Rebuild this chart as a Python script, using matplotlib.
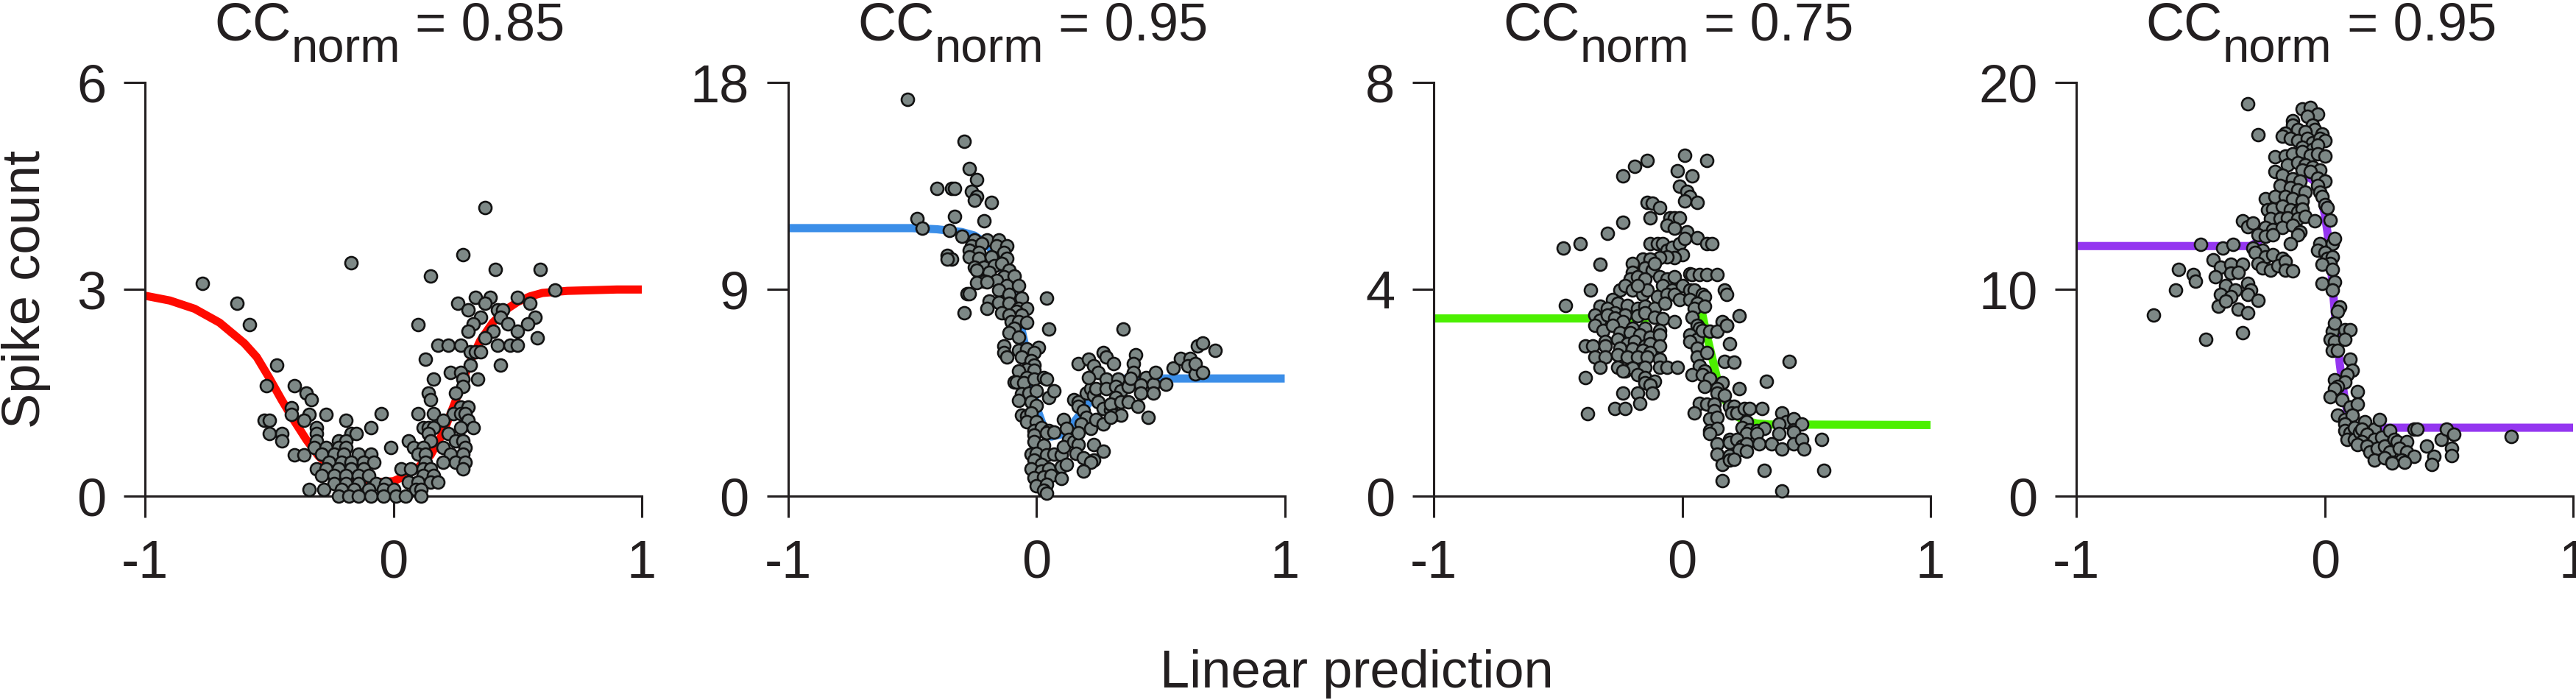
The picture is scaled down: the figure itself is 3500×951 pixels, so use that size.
import matplotlib
matplotlib.use("Agg")
import matplotlib.pyplot as plt

plt.rcParams['font.family'] = ['Liberation Sans', 'DejaVu Sans']
plt.rcParams['axes.unicode_minus'] = False

TEXT = '#231f20'

# panel settings
titles = ['0.85', '0.95', '0.75', '0.95']
y_ticks = [[0, 3, 6], [0, 9, 18], [0, 4, 8], [0, 10, 20]]
line_colors = ['#ff0a00', '#3b8ee8', '#4cf000', '#9436f0']

# fitted nonlinearities
fit1_x = [-1, -0.9, -0.8, -0.7, -0.6, -0.55, -0.5, -0.45, -0.4, -0.35, -0.3, -0.25, -0.2, -0.15,
          -0.1, -0.05, 0, 0.05, 0.1, 0.15, 0.2, 0.25, 0.3, 0.35, 0.4, 0.45, 0.5, 0.55, 0.6, 0.7,
          0.8, 0.9, 1.0]
fit1_y = [2.91, 2.84, 2.72, 2.52, 2.22, 2.02, 1.72, 1.40, 1.10, 0.82, 0.58, 0.42, 0.31, 0.25,
          0.22, 0.21, 0.22, 0.30, 0.42, 0.60, 0.92, 1.38, 1.88, 2.26, 2.52, 2.70, 2.82, 2.90,
          2.95, 2.98, 2.99, 3.0, 3.0]

fit2_x = [-1, -0.5, -0.4, -0.3, -0.25, -0.2, -0.15, -0.1, -0.07, -0.04, -0.02, 0, 0.03, 0.06,
          0.1, 0.15, 0.2, 0.25, 0.3, 0.35, 0.4, 1.0]
fit2_y = [11.67, 11.67, 11.62, 11.5, 11.35, 11.0, 10.3, 9.0, 7.8, 6.3, 5.0, 3.9, 3.0, 2.6,
          2.7, 3.2, 3.9, 4.6, 5.0, 5.12, 5.13, 5.13]

fit3_x = [-1, -0.15, -0.13, -0.11, -0.09, -0.07, -0.05, -0.02, 0.0, 0.02, 0.04, 0.06, 0.08,
          0.1, 0.12, 0.14, 0.16, 0.18, 0.2, 0.22, 0.25, 0.3, 0.35, 1.0]
fit3_y = [3.44, 3.44, 3.47, 3.65, 3.95, 4.18, 4.22, 4.15, 4.08, 4.02, 3.92, 3.78, 3.55,
          3.1, 2.7, 2.3, 2.0, 1.8, 1.65, 1.55, 1.47, 1.41, 1.39, 1.38]

fit4_x = [-1, -0.3, -0.27, -0.24, -0.21, -0.18, -0.15, -0.12, -0.09, -0.06, -0.04, -0.02, 0.0,
          0.01, 0.02, 0.03, 0.04, 0.05, 0.06, 0.07, 0.08, 0.09, 0.1, 0.12, 0.14, 0.16, 1.0]
fit4_y = [12.1, 12.1, 12.3, 12.7, 13.3, 14.2, 15.0, 15.4, 15.45, 15.4, 15.2, 14.7, 13.6,
          12.8, 11.8, 10.3, 8.9, 7.6, 6.4, 5.5, 4.7, 4.1, 3.7, 3.42, 3.34, 3.32, 3.32]

# spike count vs linear prediction, one (x, y) pair per stimulus
pts1 = [
    (0.37, 4.19), (0.28, 3.50), (-0.17, 3.39), (0.15, 3.19), (0.41, 3.29), (0.59, 3.29),
    (-0.77, 3.09), (0.65, 2.99), (0.33, 2.89), (0.39, 2.89), (0.50, 2.89), (0.26, 2.80),
    (0.30, 2.70), (0.37, 2.80), (0.55, 2.80), (-0.63, 2.80), (0.42, 2.70), (0.44, 2.70),
    (0.35, 2.60), (0.43, 2.60), (0.57, 2.60), (0.32, 2.50), (0.46, 2.50), (0.54, 2.50),
    (0.10, 2.49), (-0.58, 2.49), (0.30, 2.40), (0.40, 2.40), (0.50, 2.40), (0.37, 2.30),
    (0.58, 2.30), (0.18, 2.19), (0.22, 2.19), (0.27, 2.19), (0.42, 2.19), (0.47, 2.19),
    (0.50, 2.19), (0.31, 2.10), (0.33, 2.10), (0.35, 2.10), (0.13, 1.99), (0.31, 1.90),
    (0.43, 1.90), (-0.47, 1.90), (0.23, 1.80), (0.27, 1.80), (0.28, 1.70), (0.34, 1.70),
    (0.16, 1.70), (0.28, 1.59), (-0.51, 1.61), (-0.40, 1.61), (0.14, 1.50), (-0.35, 1.50),
    (0.25, 1.50), (0.15, 1.40), (-0.33, 1.40), (0.27, 1.30), (0.30, 1.30), (-0.41, 1.29),
    (0.10, 1.20), (0.16, 1.20), (-0.41, 1.19), (-0.34, 1.19), (-0.27, 1.19), (-0.05, 1.20),
    (0.24, 1.20), (0.27, 1.20), (0.29, 1.20), (0.20, 1.10), (0.30, 1.10), (-0.52, 1.10),
    (-0.50, 1.10), (-0.36, 1.10), (-0.19, 1.10), (0.12, 1.00), (0.14, 1.00), (0.16, 1.00),
    (0.27, 1.00), (0.32, 1.00), (-0.09, 1.00), (-0.31, 1.00), (0.14, 0.91), (0.22, 0.91),
    (-0.50, 0.91), (-0.45, 0.91), (-0.31, 0.91), (-0.17, 0.91), (-0.15, 0.91), (0.15, 0.80),
    (0.25, 0.80), (0.28, 0.80), (-0.45, 0.80), (-0.31, 0.80), (-0.22, 0.80), (-0.19, 0.80),
    (0.06, 0.80), (-0.01, 0.71), (0.08, 0.71), (0.12, 0.71), (0.20, 0.71), (0.29, 0.71),
    (-0.32, 0.71), (-0.27, 0.71), (-0.22, 0.71), (-0.19, 0.71), (0.23, 0.61), (0.28, 0.61),
    (0.10, 0.61), (0.13, 0.61), (-0.40, 0.60), (-0.36, 0.60), (-0.29, 0.61), (-0.24, 0.61),
    (-0.20, 0.61), (-0.14, 0.61), (-0.09, 0.61), (0.25, 0.50), (0.29, 0.50), (0.20, 0.50),
    (0.13, 0.50), (-0.26, 0.50), (-0.21, 0.50), (-0.17, 0.50), (-0.12, 0.50), (-0.08, 0.50),
    (-0.31, 0.40), (-0.27, 0.40), (0.03, 0.40), (0.07, 0.40), (0.12, 0.40), (0.15, 0.40),
    (0.28, 0.40), (-0.22, 0.40), (-0.17, 0.40), (-0.12, 0.40), (-0.29, 0.30), (-0.24, 0.30),
    (-0.19, 0.30), (-0.14, 0.30), (-0.10, 0.30), (0.12, 0.30), (0.16, 0.30), (-0.24, 0.19),
    (-0.19, 0.19), (-0.14, 0.19), (-0.07, 0.19), (-0.03, 0.19), (0.06, 0.21), (0.10, 0.21),
    (0.15, 0.21), (0.18, 0.21), (-0.34, 0.10), (-0.28, 0.10), (-0.21, 0.10), (-0.16, 0.10),
    (-0.10, 0.10), (-0.04, 0.10), (0.00, 0.10), (0.09, 0.10), (0.11, 0.10), (-0.22, 0.0),
    (-0.18, 0.0), (-0.14, 0.0), (-0.09, 0.0), (-0.04, 0.0), (0.01, 0.0), (0.05, 0.0),
    (0.11, 0.0),
]

pts2 = [
    (-0.52, 17.28), (-0.29, 15.46), (-0.27, 14.25), (-0.24, 13.79), (-0.40, 13.38),
    (-0.34, 13.38), (-0.33, 13.38), (-0.26, 13.28), (-0.24, 13.05), (-0.25, 12.89),
    (-0.18, 12.78), (-0.33, 12.19), (-0.48, 12.08), (-0.21, 12.0), (-0.46, 11.67),
    (-0.35, 11.57), (-0.30, 11.30), (-0.25, 11.17), (-0.20, 11.17), (-0.15, 11.17),
    (-0.26, 10.91), (-0.22, 11.01), (-0.16, 10.91), (-0.12, 10.91), (-0.27, 10.72),
    (-0.23, 10.62), (-0.13, 10.62), (-0.36, 10.49), (-0.34, 10.33), (-0.36, 10.33),
    (-0.27, 10.43), (-0.23, 10.37), (-0.18, 10.43), (-0.12, 10.37), (-0.25, 9.98),
    (-0.21, 9.98), (-0.17, 10.04), (-0.14, 10.14), (-0.24, 9.84), (-0.19, 9.75),
    (-0.11, 9.84), (-0.13, 9.55), (-0.09, 9.59), (-0.21, 9.36), (-0.16, 9.40),
    (-0.14, 8.97), (-0.24, 9.30), (-0.20, 9.32), (-0.12, 9.17), (-0.07, 9.17),
    (-0.28, 8.82), (-0.27, 8.82), (-0.15, 8.97), (-0.11, 8.78), (-0.06, 8.62),
    (-0.19, 8.49), (-0.15, 8.43), (-0.11, 8.39), (-0.07, 8.19), (-0.04, 8.19),
    (-0.20, 8.19), (-0.14, 8.0), (-0.08, 8.04), (-0.06, 7.90), (-0.29, 8.0),
    (-0.11, 7.90), (-0.10, 7.61), (-0.07, 7.61), (-0.09, 7.32), (-0.11, 7.13),
    (0.04, 8.62), (0.05, 7.28), (-0.07, 6.93), (-0.04, 7.57), (-0.07, 6.35), (-0.13, 6.54),
    (-0.13, 6.25), (-0.12, 6.06), (-0.04, 6.41), (0.01, 6.49), (-0.01, 6.25), (-0.06, 6.06),
    (-0.02, 5.90), (-0.01, 5.71), (-0.04, 5.51), (-0.01, 5.48), (-0.07, 5.44), (-0.04, 5.18),
    (-0.09, 4.99), (-0.08, 4.99), (-0.05, 4.93), (-0.01, 5.09), (0.03, 5.18), (0.04, 5.09),
    (-0.06, 4.47), (-0.03, 4.50), (0.00, 4.60), (0.05, 4.31), (0.07, 4.60), (-0.07, 4.16),
    (-0.02, 4.12), (0.00, 3.96), (-0.06, 3.53), (-0.04, 3.50), (-0.02, 3.63), (-0.04, 3.24),
    (0.00, 3.24), (-0.01, 2.85), (0.02, 2.99), (0.05, 2.85), (-0.01, 2.66), (0.04, 2.76),
    (0.07, 2.80), (-0.01, 2.37), (0.03, 2.21), (-0.02, 1.83), (0.00, 1.88), (0.04, 1.79),
    (0.07, 1.83), (0.10, 1.79), (-0.01, 1.59), (0.02, 1.40), (-0.02, 1.20), (0.02, 1.11),
    (0.05, 1.20), (0.10, 1.30), (0.12, 1.40), (-0.01, 0.82), (0.03, 0.85), (0.06, 0.91),
    (0.10, 0.78), (0.00, 0.47), (0.04, 0.52), (0.03, 0.27), (0.04, 0.15),
    (0.11, 3.34), (0.12, 2.95), (0.13, 2.47), (0.11, 2.17), (0.15, 2.37), (0.17, 2.27),
    (0.16, 1.88), (0.19, 1.69), (0.15, 4.21), (0.17, 4.12), (0.17, 3.92), (0.19, 3.73),
    (0.20, 3.44), (0.18, 3.15), (0.22, 2.95), (0.17, 2.76), (0.23, 2.27), (0.27, 1.98),
    (0.23, 1.59), (0.22, 1.50), (0.19, 1.11), (0.20, 4.50), (0.22, 4.70), (0.23, 4.41),
    (0.25, 4.12), (0.27, 3.83), (0.24, 3.34), (0.27, 3.15), (0.30, 3.77), (0.17, 5.77),
    (0.21, 5.96), (0.23, 5.67), (0.27, 6.25), (0.28, 6.06), (0.31, 5.77), (0.25, 5.38),
    (0.21, 5.18), (0.28, 5.09), (0.33, 5.09), (0.24, 4.70), (0.28, 4.70), (0.32, 4.79),
    (0.34, 4.60), (0.37, 4.79), (0.32, 4.31), (0.30, 4.02), (0.34, 4.12), (0.31, 3.53),
    (0.34, 3.53), (0.30, 3.44), (0.35, 7.28), (0.40, 6.16), (0.39, 5.77), (0.39, 5.38),
    (0.38, 5.13), (0.44, 5.18), (0.42, 4.85), (0.47, 4.89), (0.48, 5.38), (0.37, 4.12),
    (0.42, 4.50), (0.41, 3.92), (0.45, 3.44), (0.47, 4.50), (0.52, 4.89), (0.55, 5.57),
    (0.58, 6.0), (0.62, 6.0), (0.61, 5.67), (0.64, 5.33), (0.64, 5.77), (0.67, 5.38),
    (0.65, 6.54), (0.67, 6.66), (0.72, 6.35),
]

pts3 = [
    (-0.48, 4.80), (-0.41, 4.88), (-0.47, 3.69), (-0.39, 2.30), (-0.38, 1.60), (-0.37, 3.99),
    (-0.33, 4.49), (-0.30, 5.09), (-0.24, 6.19), (-0.19, 6.38), (-0.14, 6.49), (-0.24, 5.30),
    (-0.14, 5.69), (-0.12, 5.67), (-0.09, 5.58), (-0.13, 5.38), (-0.05, 5.38), (-0.03, 5.38),
    (-0.01, 5.38), (0.01, 6.59), (0.10, 6.49), (-0.02, 6.30), (0.04, 6.19), (-0.01, 5.99),
    (0.02, 5.90), (0.03, 5.80), (0.01, 5.71), (0.06, 5.69), (-0.06, 5.24), (-0.03, 5.19),
    (0.02, 5.11), (0.06, 5.00), (0.10, 4.89), (0.12, 4.89), (-0.13, 4.88), (-0.10, 4.88),
    (-0.08, 4.88), (-0.06, 4.76), (-0.04, 4.81), (-0.01, 4.89), (0.01, 4.98), (0.00, 4.68),
    (-0.03, 4.61), (-0.06, 4.63), (-0.09, 4.61), (-0.16, 4.59), (-0.13, 4.59), (-0.20, 4.50),
    (-0.15, 4.42), (-0.12, 4.37), (-0.20, 4.33), (-0.21, 4.20), (-0.18, 4.25), (-0.15, 4.20),
    (-0.11, 4.50), (-0.09, 4.25), (-0.06, 4.20), (-0.03, 4.25), (0.03, 4.31), (0.04, 4.29),
    (0.07, 4.29), (0.10, 4.29), (0.14, 4.29), (-0.08, 4.07), (-0.04, 3.99), (0.00, 4.07),
    (0.03, 3.99), (0.05, 3.99), (0.08, 3.90), (0.09, 3.86), (0.17, 3.99), (0.18, 3.90),
    (-0.25, 3.99), (-0.23, 4.07), (-0.20, 3.99), (-0.16, 3.90), (-0.14, 3.99), (-0.18, 4.07),
    (-0.10, 3.86), (-0.06, 3.90), (-0.03, 3.90), (-0.28, 3.81), (-0.26, 3.73), (-0.22, 3.69),
    (-0.18, 3.64), (-0.15, 3.68), (-0.11, 3.64), (-0.07, 3.73), (-0.01, 3.81), (0.03, 3.81),
    (0.06, 3.74), (-0.33, 3.68), (-0.30, 3.64), (-0.27, 3.55), (-0.23, 3.51), (-0.18, 3.49),
    (-0.15, 3.55), (-0.11, 3.47), (-0.08, 3.43), (-0.03, 3.38), (0.05, 3.64), (0.09, 3.68),
    (-0.35, 3.51), (-0.33, 3.40), (-0.30, 3.51), (-0.27, 3.45), (-0.24, 3.38), (-0.20, 3.25),
    (-0.15, 3.25), (-0.09, 3.21), (0.04, 3.47), (0.06, 3.30), (0.07, 3.25), (0.16, 3.38),
    (0.18, 3.31), (0.23, 3.49), (-0.35, 3.30), (-0.32, 3.21), (-0.28, 3.30), (-0.25, 3.17),
    (-0.21, 3.17), (-0.17, 3.12), (-0.13, 3.08), (-0.09, 3.12), (0.03, 3.12), (0.06, 3.04),
    (0.08, 3.21), (0.11, 3.19), (0.14, 3.19), (0.18, 3.30), (-0.31, 2.99), (-0.26, 3.04),
    (-0.22, 2.95), (-0.19, 2.99), (-0.15, 2.91), (-0.13, 2.95), (-0.09, 2.91), (0.03, 2.99),
    (0.06, 2.86), (0.19, 2.95), (-0.39, 2.91), (-0.36, 2.91), (-0.31, 2.91), (-0.25, 2.86),
    (-0.20, 2.85), (-0.16, 2.82), (-0.13, 2.78), (-0.35, 2.69), (-0.31, 2.69), (-0.26, 2.74),
    (-0.22, 2.69), (-0.18, 2.69), (-0.14, 2.69), (-0.09, 2.65), (0.06, 2.69), (0.10, 2.78),
    (0.17, 2.61), (0.21, 2.59), (-0.33, 2.50), (-0.26, 2.50), (-0.23, 2.43), (-0.20, 2.48),
    (-0.15, 2.50), (-0.09, 2.50), (-0.06, 2.50), (-0.02, 2.50), (0.07, 2.52), (0.09, 2.42),
    (-0.24, 2.43), (-0.18, 2.35), (-0.15, 2.30), (-0.11, 2.22), (0.04, 2.35), (0.08, 2.35),
    (0.11, 2.28), (0.16, 2.20), (-0.15, 2.20), (-0.13, 2.16), (0.09, 2.13), (0.14, 2.09),
    (0.23, 2.09), (0.34, 2.22), (-0.24, 2.00), (-0.18, 2.00), (-0.12, 2.00), (0.14, 2.00),
    (0.17, 1.95), (-0.17, 1.80), (0.07, 1.80), (0.10, 1.79), (0.13, 1.79), (0.19, 1.74),
    (0.21, 1.74), (-0.27, 1.70), (-0.23, 1.70), (0.05, 1.61), (0.13, 1.66), (0.20, 1.61),
    (0.22, 1.61), (0.25, 1.70), (0.27, 1.70), (0.32, 1.70), (0.11, 1.50), (0.14, 1.53),
    (0.26, 1.44), (0.40, 1.61), (0.42, 1.44), (0.45, 1.50), (0.11, 1.27), (0.14, 1.31),
    (0.24, 1.33), (0.27, 1.29), (0.30, 1.27), (0.33, 1.31), (0.39, 1.40), (0.45, 1.29),
    (0.48, 1.40), (0.11, 1.21), (0.19, 1.10), (0.25, 1.10), (0.26, 1.21), (0.30, 1.21),
    (0.39, 1.21), (0.45, 1.24), (0.14, 1.01), (0.19, 1.05), (0.22, 1.10), (0.24, 0.97),
    (0.26, 1.01), (0.31, 1.01), (0.36, 1.01), (0.45, 1.01), (0.48, 1.10), (0.56, 1.10),
    (0.14, 0.81), (0.19, 0.79), (0.23, 0.90), (0.26, 0.88), (0.40, 0.91), (0.49, 0.91),
    (0.16, 0.62), (0.19, 0.71), (0.21, 0.72), (0.33, 0.51), (0.57, 0.51), (0.16, 0.31),
    (0.40, 0.10), (0.43, 2.61),
]

pts4 = [
    (-0.31, 18.96), (-0.27, 17.48), (-0.09, 18.71), (-0.06, 18.81), (-0.03, 18.49),
    (-0.07, 18.38), (-0.05, 17.95), (-0.04, 17.73), (-0.01, 17.52), (-0.13, 18.17),
    (-0.13, 17.95), (-0.11, 17.73), (-0.08, 17.63), (-0.16, 17.56), (-0.17, 17.41),
    (-0.14, 17.30), (-0.11, 17.20), (-0.07, 17.30), (-0.05, 17.09), (-0.02, 17.30),
    (0.00, 17.20), (-0.09, 16.87), (-0.05, 16.76), (-0.03, 16.98), (-0.20, 16.40),
    (-0.16, 16.44), (-0.13, 16.55), (-0.09, 16.66), (-0.06, 16.48), (-0.03, 16.55),
    (0.00, 16.44), (-0.15, 16.01), (-0.11, 16.12), (-0.08, 16.01), (-0.05, 15.90),
    (-0.02, 15.79), (-0.09, 15.79), (-0.06, 15.69), (-0.20, 15.69), (-0.17, 15.53),
    (-0.13, 15.36), (-0.10, 15.25), (-0.03, 15.40), (0.00, 15.25), (-0.03, 15.04),
    (-0.18, 15.04), (-0.14, 14.93), (-0.11, 14.82), (-0.08, 14.71), (-0.02, 14.71),
    (-0.01, 14.50), (-0.24, 14.39), (-0.20, 14.50), (-0.16, 14.50), (-0.13, 14.39),
    (-0.09, 14.28), (0.00, 14.11), (0.01, 13.96), (-0.23, 13.85), (-0.21, 13.89),
    (-0.17, 14.02), (-0.14, 13.85), (-0.11, 13.74), (-0.09, 13.89), (-0.22, 13.42),
    (-0.18, 13.42), (-0.15, 13.46), (-0.11, 13.42), (-0.08, 13.53), (-0.04, 13.31),
    (0.02, 13.36), (-0.33, 13.31), (-0.31, 13.03), (-0.29, 13.20), (-0.24, 12.99),
    (-0.21, 12.88), (-0.17, 12.99), (-0.13, 13.10), (-0.10, 12.77), (-0.11, 12.66),
    (-0.27, 12.66), (-0.24, 12.56), (-0.21, 12.66), (-0.14, 12.23), (-0.02, 12.23),
    (0.03, 12.23), (0.04, 12.45), (-0.50, 12.17), (-0.41, 12.02), (-0.37, 12.17),
    (-0.29, 12.02), (-0.25, 11.91), (-0.28, 11.80), (-0.24, 11.59), (-0.21, 11.69),
    (-0.17, 11.52), (-0.03, 11.91), (0.00, 11.80), (0.01, 11.52), (0.03, 11.59),
    (0.02, 11.26), (-0.45, 11.43), (-0.42, 11.09), (-0.38, 11.22), (-0.33, 11.22),
    (-0.27, 11.26), (-0.25, 11.05), (-0.22, 10.94), (-0.19, 11.15), (-0.16, 11.37),
    (-0.59, 10.98), (-0.53, 10.72), (-0.52, 10.40), (-0.44, 10.61), (-0.38, 10.79),
    (-0.35, 10.83), (-0.16, 10.94), (-0.13, 10.90), (-0.01, 11.22), (0.03, 10.98),
    (-0.40, 10.18), (-0.36, 9.97), (-0.31, 10.29), (-0.30, 9.97), (-0.01, 10.29),
    (0.04, 10.36), (0.03, 9.97), (-0.60, 9.97), (-0.42, 9.75), (-0.38, 9.64), (-0.31, 9.75),
    (-0.27, 9.49), (-0.43, 9.21), (-0.40, 9.43), (-0.35, 9.06), (-0.31, 8.89), (0.06, 9.15),
    (0.05, 8.93), (-0.69, 8.78), (-0.33, 7.90), (-0.48, 7.59), (0.03, 7.98), (0.04, 8.39),
    (0.08, 8.07), (0.10, 8.07), (0.02, 7.59), (0.04, 7.49), (0.08, 7.59), (0.03, 7.05),
    (0.05, 7.05), (0.10, 6.62), (0.11, 6.08), (0.09, 5.87), (0.04, 5.65), (0.08, 5.54),
    (0.05, 5.33), (0.04, 5.22), (0.02, 4.83), (0.13, 5.05), (0.07, 4.68), (0.10, 4.31),
    (0.13, 4.47), (0.05, 3.93), (0.08, 3.71), (0.11, 3.93), (0.08, 3.50), (0.08, 3.17),
    (0.10, 3.06), (0.12, 3.32), (0.09, 2.74), (0.12, 2.74), (0.14, 3.11), (0.16, 3.60),
    (0.20, 3.24), (0.15, 3.24), (0.17, 3.02), (0.22, 3.71), (0.20, 2.74), (0.23, 2.85),
    (0.26, 3.17), (0.15, 2.63), (0.13, 2.52), (0.17, 2.42), (0.18, 2.16), (0.21, 2.31),
    (0.24, 2.42), (0.28, 2.74), (0.29, 2.63), (0.33, 2.63), (0.26, 2.16), (0.30, 2.31),
    (0.33, 2.16), (0.20, 1.77), (0.24, 1.88), (0.27, 1.66), (0.31, 1.77), (0.36, 3.24),
    (0.37, 3.24), (0.41, 2.42), (0.44, 1.94), (0.47, 2.74), (0.49, 3.24), (0.52, 3.02),
    (0.51, 2.31), (0.51, 1.98), (0.43, 1.55), (0.36, 1.94), (0.32, 1.66), (0.27, 1.60),
    (0.75, 2.89),
]

fits = [(fit1_x, fit1_y), (fit2_x, fit2_y), (fit3_x, fit3_y), (fit4_x, fit4_y)]
points = [pts1, pts2, pts3, pts4]

W, H = 3500, 951
FS = 52
fig = plt.figure(figsize=(W / 100, H / 100), dpi=100)

lefts = [197, 1070.5, 1948, 2821.3]
ax_w = 675
ax_bottom = 1 - 674.4 / H
ax_h = (674.4 - 112.2) / H

axes = []
for i in range(4):
    ax = fig.add_axes([lefts[i] / W, ax_bottom, ax_w / W, ax_h])
    axes.append(ax)

    fx, fy = fits[i]
    ax.plot(fx, fy, color=line_colors[i], lw=8, solid_capstyle='butt', zorder=2)

    xs = [p[0] for p in points[i]]
    ys = [p[1] for p in points[i]]
    ax.scatter(xs, ys, s=150, facecolor='#7d8886', edgecolor='#121212',
               linewidth=1.9, zorder=3, clip_on=False)

    ax.set_xlim(-1, 1)
    ax.set_ylim(0, y_ticks[i][-1])
    ax.set_xticks([-1, 0, 1])
    ax.set_xticklabels(['-1', '0', '1'])
    ax.set_yticks(y_ticks[i])
    ax.set_yticklabels([str(t) for t in y_ticks[i]])

    for side in ['top', 'right']:
        ax.spines[side].set_visible(False)
    for side in ['left', 'bottom']:
        ax.spines[side].set_linewidth(2.2)
        ax.spines[side].set_color(TEXT)
    ax.tick_params(axis='both', direction='out', length=21, width=2.2, color=TEXT,
                   labelsize=FS, labelcolor=TEXT)
    ax.tick_params(axis='x', pad=21)
    ax.tick_params(axis='y', pad=17)

# titles: "CC" with a large "norm" subscript, then " = value"
renderer = fig.canvas.get_renderer()
base_y = 1 - 54.6 / H
sub_y = 1 - 84.5 / H
for i, ax in enumerate(axes):
    t1 = fig.text(0, base_y, 'CC', fontsize=FS, color=TEXT, va='baseline', ha='left')
    t2 = fig.text(0, sub_y, 'norm', fontsize=FS - 5, color=TEXT, va='baseline', ha='left')
    t3 = fig.text(0, base_y, ' = ' + titles[i], fontsize=FS, color=TEXT,
                  va='baseline', ha='left')
    w1 = t1.get_window_extent(renderer).width
    w2 = t2.get_window_extent(renderer).width
    w3 = t3.get_window_extent(renderer).width
    centre = lefts[i] + ax_w / 2 - 5
    x0 = centre - (w1 + w2 + w3) / 2
    t1.set_x(x0 / W)
    t2.set_x((x0 + w1) / W)
    t3.set_x((x0 + w1 + w2) / W)

fig.text(36 / W, 1 - 393 / H, 'Spike count', fontsize=FS, color=TEXT,
         rotation=90, ha='center', va='center')
fig.text(1843.7 / W, 1 - 934 / H, 'Linear prediction', fontsize=FS, color=TEXT,
         ha='center', va='baseline')

fig.savefig('out.png', dpi=100)
